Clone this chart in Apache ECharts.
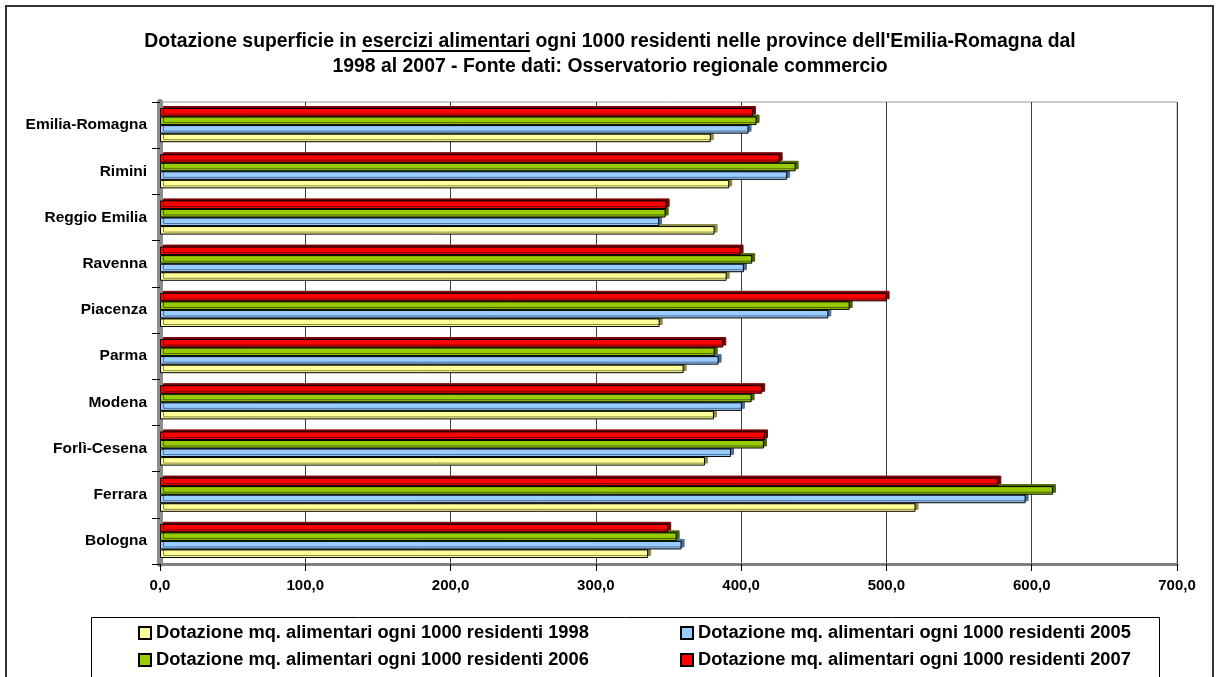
<!DOCTYPE html>
<html>
<head>
<meta charset="utf-8">
<title>Dotazione superficie esercizi alimentari</title>
<script src="https://cdn.jsdelivr.net/npm/echarts@6/dist/echarts.min.js"></script>
<style>
  html, body { margin: 0; padding: 0; background: #fff; }
  #chart { width: 1220px; height: 677px; }
</style>
</head>
<body>
<div id="chart"></div>
<script>
// province, bottom to top as on the y axis
const categories = ["Bologna", "Ferrara", "Forlì-Cesena", "Modena", "Parma", "Piacenza", "Ravenna", "Reggio Emilia", "Rimini", "Emilia-Romagna"];
const v1998 = [336.0, 520.0, 375.1, 381.3, 360.4, 343.9, 390.0, 381.7, 391.8, 379.1];
const v2005 = [359.0, 595.8, 393.0, 400.5, 384.5, 460.0, 401.9, 343.6, 431.7, 405.1];
const v2006 = [355.6, 614.6, 415.7, 407.2, 381.8, 474.7, 407.6, 348.0, 437.5, 410.6];
const v2007 = [349.8, 577.0, 416.4, 414.5, 387.7, 500.1, 399.6, 348.7, 426.5, 408.1];
const xTicks = [0, 100, 200, 300, 400, 500, 600, 700];

const seriesNames = [
  "Dotazione mq. alimentari ogni 1000 residenti 1998",
  "Dotazione mq. alimentari ogni 1000 residenti 2005",
  "Dotazione mq. alimentari ogni 1000 residenti 2006",
  "Dotazione mq. alimentari ogni 1000 residenti 2007"
];
const colors = ["#FFFF99", "#99CCFF", "#99CC00", "#FF0000"];
const sideColors = ["#8a8a40", "#4d6f99", "#4a6300", "#7a0000"]; // 3d end faces

const FONT = "'Liberation Sans', Arial, sans-serif";
const TITLE_SIZE = 19.4;
const titleLine1 = "Dotazione superficie in esercizi alimentari ogni 1000 residenti nelle province dell'Emilia-Romagna dal";
const titleLine2 = "1998 al 2007 - Fonte dati: Osservatorio regionale commercio";

// position of the underline under "esercizi alimentari"
const ctx = document.createElement("canvas").getContext("2d");
ctx.font = "bold " + TITLE_SIZE + "px " + FONT;
const fullW = ctx.measureText(titleLine1).width;
const preW = ctx.measureText("Dotazione superficie in ").width;
const ulW = ctx.measureText("esercizi alimentari").width;
const ulX = 1220 / 2 - fullW / 2 + preW;

const chart = echarts.init(document.getElementById("chart"));

// i = index in colors / names, z keeps the lower bar under the upper one
const makeSeries = (i, data) => ({
  name: seriesNames[i],
  type: "bar",
  data: data,
  z: 2 + i,
  barGap: "0%",
  barCategoryGap: "26%",
  itemStyle: {
    color: colors[i],
    borderColor: "#000",
    borderWidth: 1,
    shadowColor: sideColors[i],
    shadowBlur: 0,
    shadowOffsetX: 3,
    shadowOffsetY: -2,
  },
  emphasis: { disabled: true },
});

const legendCommon = {
  orient: "vertical",
  padding: 0,
  itemGap: 9,
  itemWidth: 12,
  itemHeight: 12,
  icon: "rect",
  itemStyle: { shadowColor: "transparent", shadowOffsetX: 0, shadowOffsetY: 0 },
  textStyle: { fontFamily: FONT, fontWeight: "bold", fontSize: 18.3, color: "#000", lineHeight: 18 },
  selectedMode: false,
};

const option = {
  animation: false,
  backgroundColor: "#fff",
  textStyle: { fontFamily: FONT },
  title: {
    text: titleLine1 + "\n" + titleLine2,
    left: "center",
    top: 29,
    padding: 0,
    textStyle: { fontFamily: FONT, fontWeight: "bold", fontSize: TITLE_SIZE, color: "#000", lineHeight: 25 },
  },
  legend: [
    Object.assign({ left: 138, top: 624, data: [seriesNames[0], seriesNames[2]] }, legendCommon),
    Object.assign({ left: 680, top: 624, data: [seriesNames[1], seriesNames[3]] }, legendCommon),
  ],
  grid: {
    left: 160,
    right: 43,
    top: 102,
    bottom: 113,
    show: true,
    borderColor: "#999",
    borderWidth: 1,
  },
  xAxis: {
    type: "value",
    min: xTicks[0],
    max: xTicks[xTicks.length - 1],
    interval: 100,
    axisLine: { show: true, lineStyle: { color: "#808080", width: 3 } },
    axisTick: { show: true, length: 7, lineStyle: { color: "#000" } },
    splitLine: { show: true, lineStyle: { color: "#404040", width: 1 } },
    axisLabel: {
      margin: 14,
      fontFamily: FONT,
      fontWeight: "bold",
      fontSize: 15,
      color: "#000",
      formatter: (v) => v.toFixed(1).replace(".", ","),
    },
  },
  yAxis: {
    type: "category",
    data: categories,
    axisLine: { show: true, lineStyle: { color: "#8c8c8c", width: 6 } },
    axisTick: { show: true, length: 8, lineStyle: { color: "#000" } },
    splitLine: { show: false },
    axisLabel: {
      margin: 13,
      fontFamily: FONT,
      fontWeight: "bold",
      fontSize: 15.5,
      color: "#000",
    },
  },
  // listed top to bottom inside each province: 2007, 2006, 2005, 1998
  series: [
    makeSeries(3, v2007),
    makeSeries(2, v2006),
    makeSeries(1, v2005),
    makeSeries(0, v1998),
  ],
  graphic: [
    // outer frame of the chart
    { type: "rect", silent: true, shape: { x: 6, y: 6, width: 1207, height: 700 }, style: { fill: "none", stroke: "#333", lineWidth: 2 } },
    // legend frame
    { type: "rect", silent: true, shape: { x: 91.5, y: 617.5, width: 1068, height: 80 }, style: { fill: "none", stroke: "#000", lineWidth: 1 } },
    // underline "esercizi alimentari"
    { type: "line", silent: true, shape: { x1: ulX, y1: 51, x2: ulX + ulW, y2: 51 }, style: { stroke: "#000", lineWidth: 2 } },
  ],
};

chart.setOption(option);
</script>
</body>
</html>
